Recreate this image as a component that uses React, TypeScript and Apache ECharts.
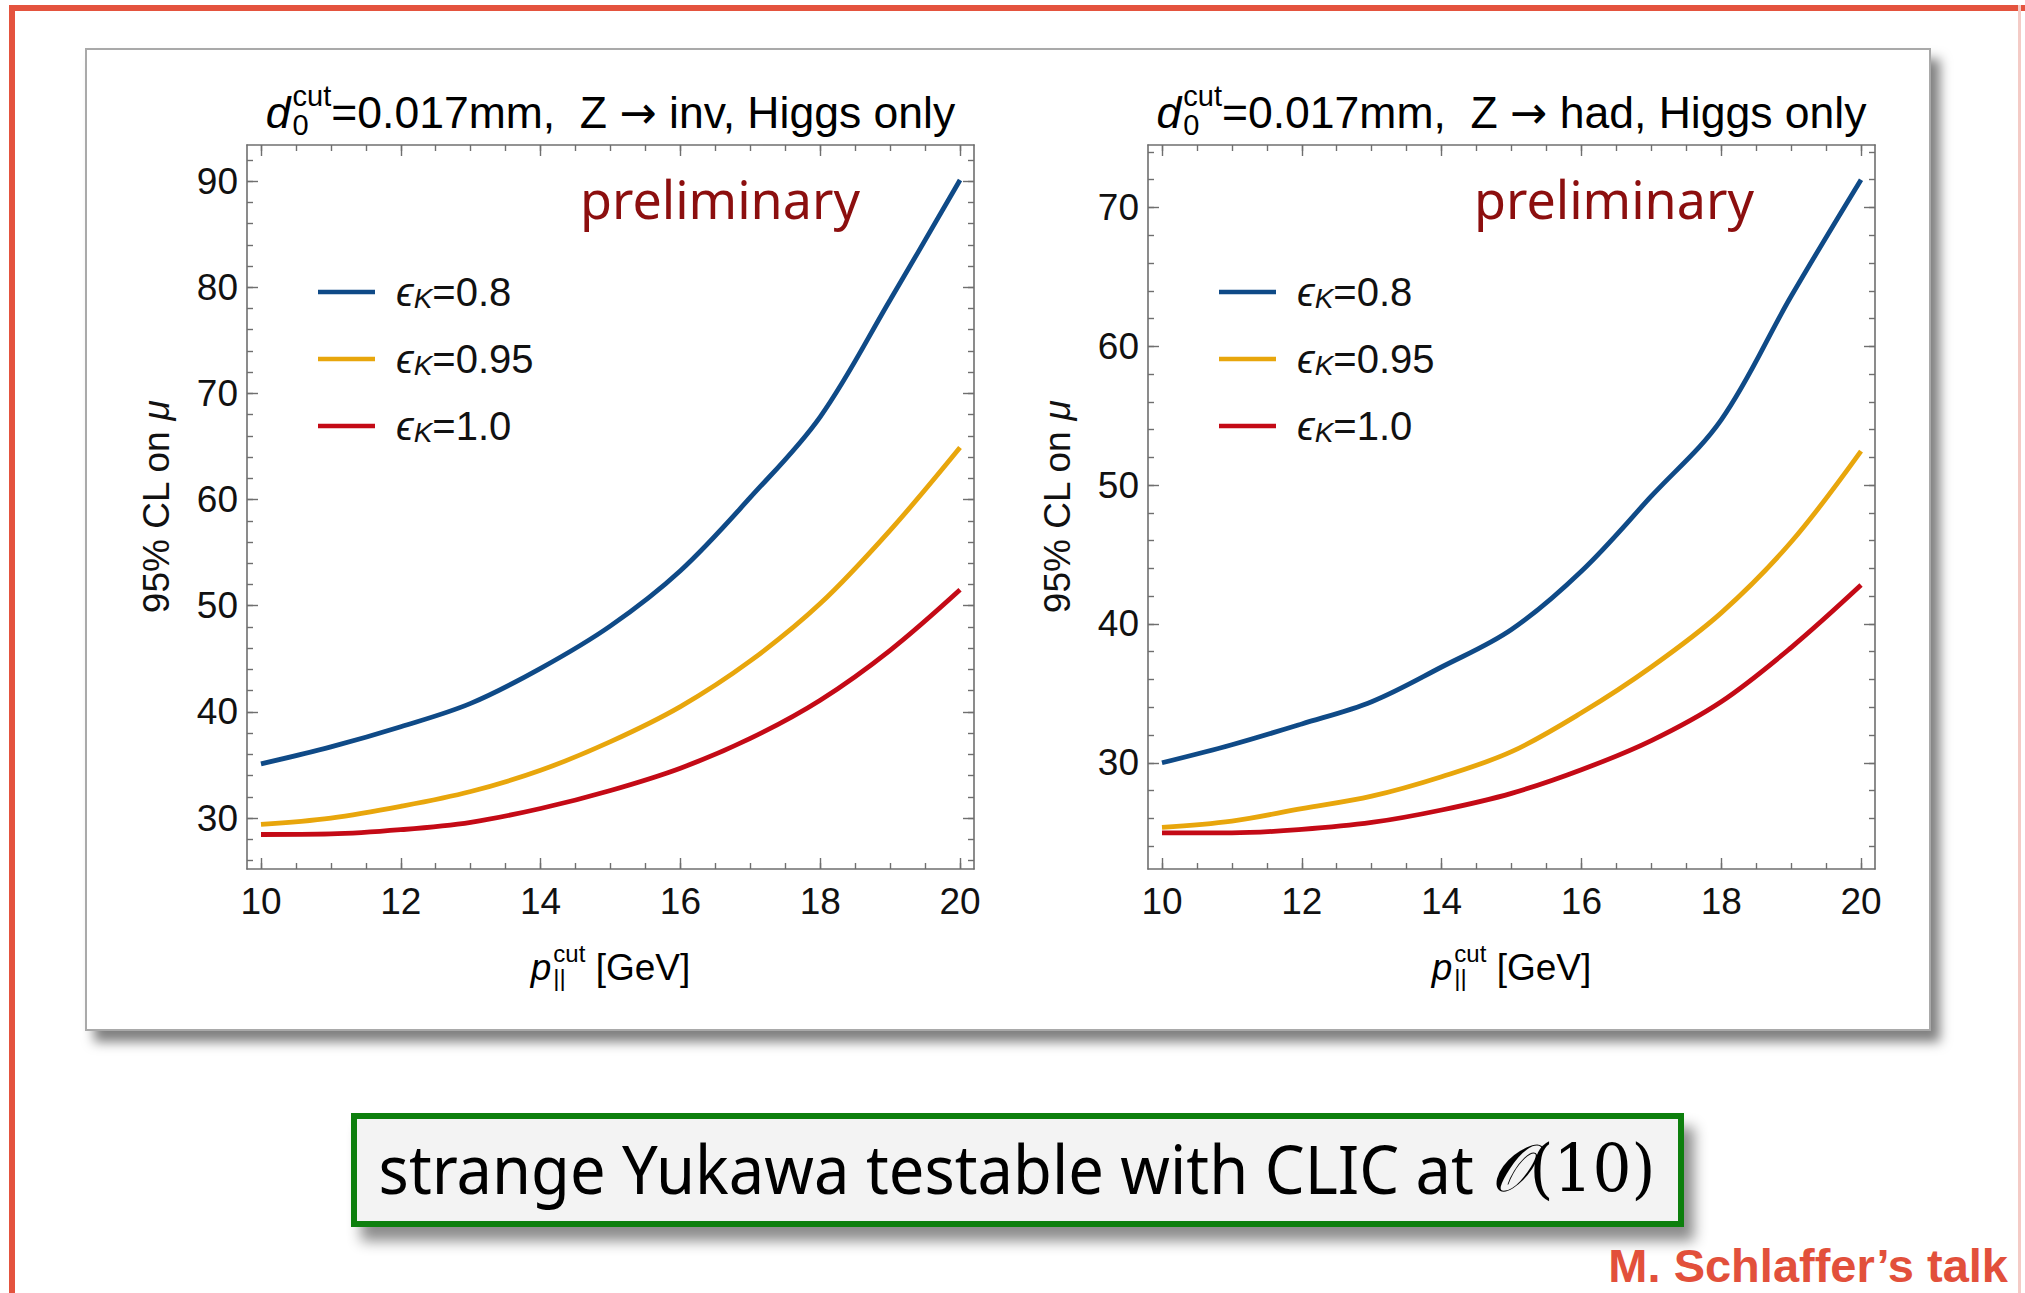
import React, { useEffect, useRef } from 'react';
import * as echarts from 'echarts';

// ---------- data ----------
const xValues = [10, 11, 12, 13, 14, 15, 16, 17, 18, 19, 20];
// Z -> inv, Higgs only
const invK08 = [35.1, 36.7, 38.6, 40.8, 44.1, 48.1, 53.3, 60.2, 67.8, 78.8, 90.1];
const invK095 = [29.4, 30.0, 31.1, 32.5, 34.5, 37.2, 40.5, 44.8, 50.2, 57.1, 64.9];
const invK10 = [28.45, 28.5, 28.9, 29.6, 30.9, 32.6, 34.7, 37.5, 41.1, 45.8, 51.5];
// Z -> had, Higgs only
const hadK08 = [30.0, 31.3, 32.8, 34.4, 36.9, 39.6, 43.8, 49.2, 54.7, 63.6, 72.0];
const hadK095 = [25.35, 25.8, 26.7, 27.6, 29.0, 30.8, 33.6, 36.9, 40.8, 45.9, 52.45];
const hadK10 = [24.95, 24.95, 25.2, 25.7, 26.6, 27.8, 29.5, 31.6, 34.4, 38.3, 42.8];

const seriesNames = ['ϵK=0.8', 'ϵK=0.95', 'ϵK=1.0'];
const seriesColors = ['#0f4a87', '#e8a60c', '#c40a16'];

const xMajorTicks = [10, 12, 14, 16, 18, 20];
const xMinorTicks = [10, 10.5, 11, 11.5, 12, 12.5, 13, 13.5, 14, 14.5, 15, 15.5, 16, 16.5, 17, 17.5, 18, 18.5, 19, 19.5, 20];
const invYMajorTicks = [30, 40, 50, 60, 70, 80, 90];
const invYMinorTicks = [26, 28, 30, 32, 34, 36, 38, 40, 42, 44, 46, 48, 50, 52, 54, 56, 58, 60, 62, 64, 66, 68, 70, 72, 74, 76, 78, 80, 82, 84, 86, 88, 90, 92];
const hadYMajorTicks = [30, 40, 50, 60, 70];
const hadYMinorTicks = [24, 26, 28, 30, 32, 34, 36, 38, 40, 42, 44, 46, 48, 50, 52, 54, 56, 58, 60, 62, 64, 66, 68, 70, 72, 74];

const panelTitleParts = [
  ['=0.017mm,  Z ', '→', ' inv, Higgs only'],
  ['=0.017mm,  Z ', '→', ' had, Higgs only'],
];
const yAxisTitle = '95% CL on ';
const xAxisTitleRest = ' [GeV]';
const watermark = 'preliminary';
const boxText = 'strange Yukawa testable with CLIC at ';
const creditText = 'M. Schlaffer’s talk';

// ---------- layout ----------
const W = 2025;
const H = 1293;
const SANS = '"Liberation Sans", Arial, sans-serif';
const HUMAN = '"Noto Sans", "Open Sans", sans-serif';
const grids = [
  { left: 247, top: 145, width: 727, height: 724, xr: [9.8, 20.2], yr: [25.2, 93.4] },
  { left: 1148, top: 145, width: 727, height: 724, xr: [9.8, 20.2], yr: [22.35, 74.5] },
];
const FRAME = '#6f6f6f';
const TICK_FS = 37;
const LEG_FS = 40;

let measureCtx: CanvasRenderingContext2D | null = null;
function textWidth(text: string, font: string): number {
  if (!measureCtx) measureCtx = document.createElement('canvas').getContext('2d');
  if (!measureCtx) return text.length * 20;
  measureCtx.font = font;
  return measureCtx.measureText(text).width;
}

// text with an italic base letter carrying stacked sub/superscripts, then plain pieces
function scriptLabel(cx: number, baseline: number, base: string, sub: string, sup: string, rest: string[], size: number) {
  const small = Math.round(size * 0.66);
  const fam = '"Liberation Sans"';
  const fBase = `italic ${size}px ${fam}`;
  const fSmall = `${small}px ${fam}`;
  const fRest = `${size}px ${fam}`;
  const fArrow = `${size}px "DejaVu Sans"`;
  const pieceFont = (t: string) => (t === '→' ? fArrow : fRest);
  const w1 = textWidth(base, fBase);
  const w2 = Math.max(textWidth(sub, fSmall), textWidth(sup, fSmall));
  const ws = rest.map((t) => textWidth(t, pieceFont(t)));
  const total = w1 + 2 + w2 + ws.reduce((a, b) => a + b, 0);
  const x0 = cx - total / 2;
  const mid = (b: number, s: number) => b - 0.35 * s;
  const mk = (x: number, y: number, text: string, font: string) => ({
    type: 'text',
    x,
    y,
    z: 5,
    style: { text, font, fill: '#000', align: 'left', verticalAlign: 'middle', textAlign: 'left', textVerticalAlign: 'middle' },
  });
  const out: any[] = [
    mk(x0, mid(baseline, size), base, fBase),
    mk(x0 + w1 + 2, mid(baseline - size * 0.5, small), sup, fSmall),
    mk(x0 + w1 + 2, mid(baseline + size * 0.16, small), sub, fSmall),
  ];
  let x = x0 + w1 + 2 + w2;
  rest.forEach((t, i) => {
    out.push(mk(x, mid(baseline, size), t, pieceFont(t)));
    x += ws[i];
  });
  return out;
}

function buildAxes(gi: number, yMajor: number[], yMinor: number[]) {
  const g = grids[gi];
  const lineStyle = { color: FRAME, width: 1.6 };
  const tickStyle = { color: FRAME, width: 1.4 };
  const xa = (position: string, major: boolean, showLine: boolean, labels: boolean) => ({
    gridIndex: gi,
    type: 'value',
    min: g.xr[0],
    max: g.xr[1],
    position,
    axisLine: { show: showLine, onZero: false, lineStyle },
    axisTick: { show: true, inside: true, length: major ? 11 : 6, customValues: major ? xMajorTicks : xMinorTicks, lineStyle: tickStyle },
    axisLabel: labels
      ? { show: true, customValues: xMajorTicks, margin: 14, fontSize: TICK_FS, color: '#111', fontFamily: SANS }
      : { show: false },
    splitLine: { show: false },
  });
  const ya = (position: string, major: boolean, showLine: boolean, labels: boolean, withName: boolean) => ({
    gridIndex: gi,
    type: 'value',
    min: g.yr[0],
    max: g.yr[1],
    position,
    axisLine: { show: showLine, onZero: false, lineStyle },
    axisTick: { show: true, inside: true, length: major ? 11 : 6, customValues: major ? yMajor : yMinor, lineStyle: tickStyle },
    axisLabel: labels
      ? { show: true, customValues: yMajor, margin: 9, fontSize: TICK_FS, color: '#111', fontFamily: SANS }
      : { show: false },
    splitLine: { show: false },
    ...(withName
      ? {
          name: `{a|${yAxisTitle}}{m|μ}`,
          nameLocation: 'middle',
          nameGap: 72,
          nameRotate: 90,
          nameTextStyle: {
            fontFamily: SANS,
            fontSize: TICK_FS,
            color: '#111',
            rich: {
              a: { fontFamily: SANS, fontSize: TICK_FS, color: '#111' },
              m: { fontFamily: SANS, fontSize: TICK_FS, color: '#111', fontStyle: 'italic' },
            },
          },
        }
      : {}),
  });
  return {
    x: [xa('bottom', true, true, true), xa('bottom', false, false, false), xa('top', true, true, false), xa('top', false, false, false)],
    y: [ya('left', true, true, true, true), ya('left', false, false, false, false), ya('right', true, true, false, false), ya('right', false, false, false, false)],
  };
}

export default function App() {
  const ref = useRef<HTMLDivElement>(null);
  useEffect(() => {
    if (!ref.current) return;
    const chart = echarts.init(ref.current, null, { renderer: 'svg' });
    const a0 = buildAxes(0, invYMajorTicks, invYMinorTicks);
    const a1 = buildAxes(1, hadYMajorTicks, hadYMinorTicks);
    const datasets = [
      [invK08, invK095, invK10],
      [hadK08, hadK095, hadK10],
    ];
    const series: any[] = [];
    datasets.forEach((set, gi) => {
      set.forEach((vals, si) => {
        series.push({
          type: 'line',
          name: seriesNames[si],
          xAxisIndex: gi * 4,
          yAxisIndex: gi * 4,
          data: xValues.map((x, i) => [x, vals[i]]),
          smooth: 0.35,
          symbol: 'none',
          lineStyle: { width: 4.8, color: seriesColors[si] },
          itemStyle: { color: seriesColors[si] },
          z: 3,
        });
      });
    });

    const legendCommon = {
      orient: 'vertical',
      top: 272,
      padding: 0,
      itemWidth: 57,
      itemHeight: 4.5,
      itemGap: 27,
      icon: 'rect',
      selectedMode: false,
      data: seriesNames,
      formatter: (name: string) => `{e|ϵ}{k|K}{v|${name.slice(2)}}`,
      textStyle: {
        fontFamily: SANS,
        fontSize: LEG_FS,
        color: '#111',
        rich: {
          e: { fontFamily: SANS, fontSize: LEG_FS, fontStyle: 'italic', color: '#111', lineHeight: 40, padding: [0, 0, 0, 16] },
          k: { fontFamily: SANS, fontSize: 28, fontStyle: 'italic', color: '#111', lineHeight: 20, verticalAlign: 'bottom' },
          v: { fontFamily: SANS, fontSize: LEG_FS, color: '#111', lineHeight: 40 },
        },
      },
    };

    const graphic: any[] = [
      // slide frame
      { type: 'rect', z: -20, shape: { x: 9, y: 5, width: 6, height: H }, style: { fill: '#e4533e' } },
      { type: 'rect', z: -20, shape: { x: 9, y: 5, width: W, height: 6 }, style: { fill: '#e4533e' } },
      { type: 'rect', z: -20, shape: { x: 2018, y: 5, width: 3, height: H }, style: { fill: '#f4cbc6' } },
      // figure panel with shadow
      {
        type: 'rect',
        z: -10,
        shape: { x: 86, y: 49, width: 1844, height: 981 },
        style: { fill: '#ffffff', stroke: '#a9a9a9', lineWidth: 2, shadowBlur: 12, shadowOffsetX: 9, shadowOffsetY: 11, shadowColor: 'rgba(0,0,0,0.5)' },
      },
      // preliminary marks
      { type: 'text', x: 580, y: 198, z: 5, style: { text: watermark, font: `52px ${HUMAN}`, fill: '#8c0f0f', align: 'left', verticalAlign: 'middle' } },
      { type: 'text', x: 1474, y: 198, z: 5, style: { text: watermark, font: `52px ${HUMAN}`, fill: '#8c0f0f', align: 'left', verticalAlign: 'middle' } },
      // titles
      ...scriptLabel(grids[0].left + grids[0].width / 2, 128, 'd', '0', 'cut', panelTitleParts[0], 44.5),
      ...scriptLabel(grids[1].left + grids[1].width / 2, 128, 'd', '0', 'cut', panelTitleParts[1], 44.5),
      // x axis titles
      ...scriptLabel(grids[0].left + grids[0].width / 2, 980, 'p', '||', 'cut', [xAxisTitleRest], TICK_FS),
      ...scriptLabel(grids[1].left + grids[1].width / 2, 980, 'p', '||', 'cut', [xAxisTitleRest], TICK_FS),
      // conclusion box
      {
        type: 'rect',
        z: -10,
        shape: { x: 354, y: 1116, width: 1327, height: 108 },
        style: { fill: '#f3f3f3', stroke: '#0b7f0b', lineWidth: 6, shadowBlur: 14, shadowOffsetX: 10, shadowOffsetY: 14, shadowColor: 'rgba(0,0,0,0.45)' },
      },
      {
        type: 'text',
        x: 1017,
        y: 1168,
        z: 5,
        scaleX: 0.93,
        style: {
          text: `{s|${boxText}}{o|𝒪}{p|(10)}`,
          align: 'center',
          verticalAlign: 'middle',
          rich: {
            s: { fontFamily: HUMAN, fontSize: 68, color: '#000' },
            o: { fontFamily: '"DejaVu Serif", "Liberation Serif", serif', fontSize: 66, fontStyle: 'italic', color: '#000' },
            p: { fontFamily: '"DejaVu Serif", "Liberation Serif", serif', fontSize: 66, color: '#000' },
          },
        },
      },
      {
        type: 'text',
        x: 2008,
        y: 1265,
        z: 5,
        style: { text: creditText, font: `bold 47px ${SANS}`, fill: '#e2503b', align: 'right', verticalAlign: 'middle' },
      },
    ];

    chart.setOption({
      animation: false,
      backgroundColor: '#ffffff',
      grid: grids.map((g) => ({ left: g.left, top: g.top, width: g.width, height: g.height, containLabel: false, outerBoundsMode: 'none' })),
      xAxis: [...a0.x, ...a1.x],
      yAxis: [...a0.y, ...a1.y],
      legend: [
        { ...legendCommon, left: 318 },
        { ...legendCommon, left: 1219 },
      ],
      series,
      graphic,
    });
    return () => chart.dispose();
  }, []);
  return <div ref={ref} style={{ position: 'absolute', left: 0, top: 0, width: W, height: H }} />;
}
